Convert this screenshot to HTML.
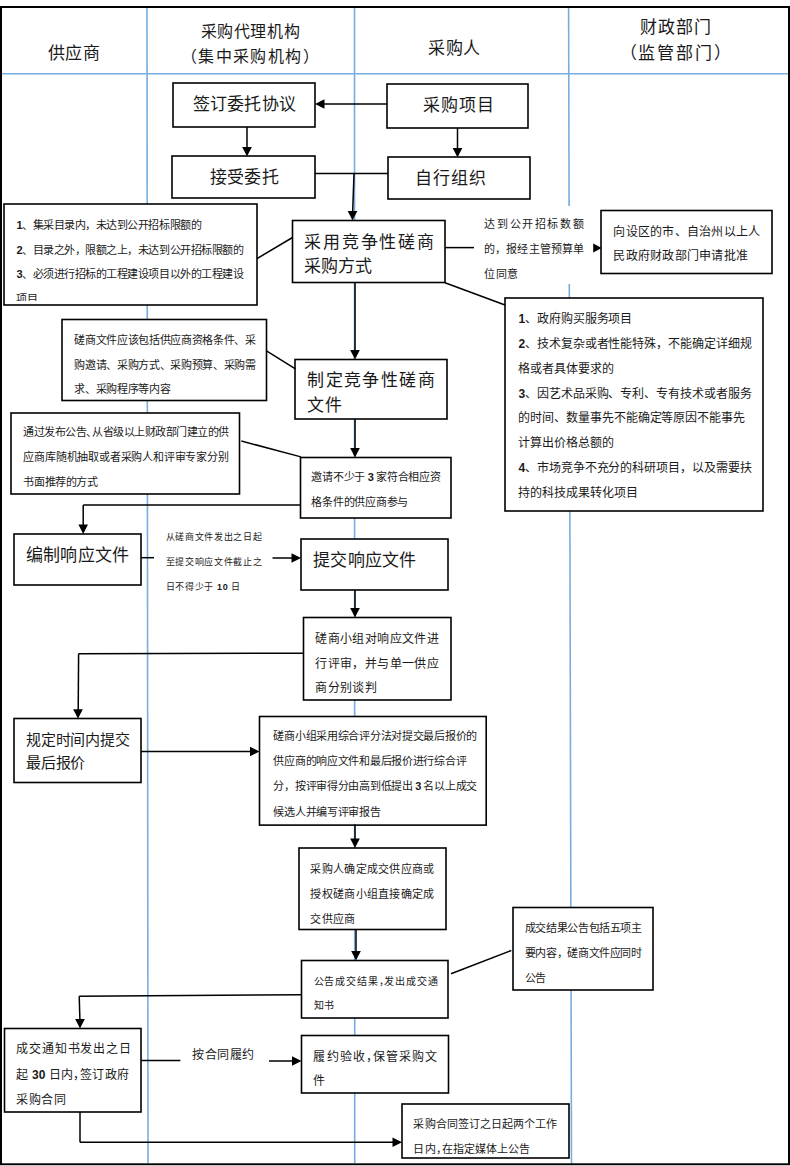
<!DOCTYPE html>
<html lang="zh-CN"><head><meta charset="utf-8"><title>竞争性磋商采购流程</title>
<style>
html,body{margin:0;padding:0;background:#fff;}
body{width:790px;height:1166px;position:relative;overflow:hidden;font-family:"Liberation Serif",serif;color:#1a1a1a;}
.fr{position:absolute;left:0;top:6px;width:790px;height:1159px;border:2px solid #000;box-sizing:border-box;}
.bx{position:absolute;border:1.6px solid #000;box-sizing:border-box;background:#fff;}
.t{position:absolute;white-space:nowrap;}
.t b{font-family:"Liberation Sans",sans-serif;font-weight:bold;}
.c{letter-spacing:-0.45em;}
svg{position:absolute;left:0;top:0;}
.cl{position:absolute;overflow:hidden;}

</style></head><body>
<svg width="790" height="1166" viewBox="0 0 790 1166">
<g stroke="#78ade0" stroke-width="1.6" fill="none">
<line x1="2" y1="73.8" x2="788" y2="73.8"/>
<line x1="147" y1="8" x2="148" y2="1163"/>
<line x1="354.5" y1="8" x2="354.7" y2="1163"/>
<line x1="568.6" y1="8" x2="571.5" y2="1166"/>
</g>
<rect x="1" y="7" width="788" height="1157.3" stroke="#000" stroke-width="2" fill="none"/>
<g stroke="#000" stroke-width="1.6" fill="#fff">
<rect x="173" y="83" width="142" height="44"/>
<rect x="387" y="84" width="141" height="44"/>
<rect x="172" y="156" width="143" height="42"/>
<rect x="388" y="157" width="142" height="42"/>
<rect x="4" y="204" width="253" height="101"/>
<rect x="292.5" y="220.5" width="152.5" height="62"/>
<rect x="601" y="210.5" width="171" height="63"/>
<rect x="505" y="298" width="258" height="213"/>
<rect x="62" y="319.5" width="204.5" height="81"/>
<rect x="295" y="359.5" width="152" height="59.5"/>
<rect x="11" y="413" width="228.5" height="81"/>
<rect x="300.5" y="457.5" width="150.5" height="60.5"/>
<rect x="14" y="534" width="127" height="51"/>
<rect x="301" y="539" width="147" height="51"/>
<rect x="303.5" y="617.5" width="147.5" height="82.5"/>
<rect x="14" y="718.5" width="127" height="64"/>
<rect x="259.5" y="716.5" width="226.7" height="108.6"/>
<rect x="299" y="848" width="147" height="81.5"/>
<rect x="301.5" y="960.5" width="146.5" height="57.5"/>
<rect x="513" y="907.5" width="140" height="82.5"/>
<rect x="4.5" y="1028.5" width="136.5" height="83.5"/>
<rect x="301.5" y="1035.5" width="147" height="57.5"/>
<rect x="402" y="1104" width="167" height="54"/>
</g>
<g stroke="#000" stroke-width="1.5" fill="none">
<line x1="387" y1="104" x2="318" y2="104"/>
<line x1="247" y1="127" x2="247" y2="150"/>
<line x1="457.5" y1="128" x2="457.5" y2="151"/>
<line x1="315" y1="173.5" x2="388" y2="173.5"/>
<line x1="354" y1="173.5" x2="352.6" y2="214"/>
<line x1="257" y1="258.6" x2="292.5" y2="237.5"/>
<line x1="445" y1="247.6" x2="474" y2="247.6"/>
<line x1="445" y1="282.7" x2="505" y2="305"/>
<line x1="355" y1="282.5" x2="355" y2="353"/>
<line x1="266.5" y1="350.9" x2="295.4" y2="368.8"/>
<line x1="355" y1="419" x2="355" y2="451"/>
<line x1="241.3" y1="441" x2="300.9" y2="456.9"/>
<line x1="301" y1="505" x2="83.2" y2="505"/>
<line x1="83.2" y1="505" x2="83.2" y2="528"/>
<line x1="141" y1="557.7" x2="154" y2="557.7"/>
<line x1="272.5" y1="558" x2="295" y2="558"/>
<line x1="355" y1="590" x2="355" y2="611"/>
<line x1="303.5" y1="653.2" x2="78.6" y2="653.8"/>
<line x1="78.6" y1="653.8" x2="78.2" y2="712"/>
<line x1="141" y1="751.5" x2="253" y2="751.5"/>
<line x1="355" y1="824.5" x2="355" y2="841.5"/>
<line x1="356" y1="929.5" x2="356" y2="954"/>
<line x1="451" y1="973.8" x2="511.3" y2="950.5"/>
<line x1="301.5" y1="994.8" x2="79.2" y2="996.3"/>
<line x1="79.2" y1="996.3" x2="80" y2="1022"/>
<line x1="141" y1="1060.6" x2="180.4" y2="1060.6"/>
<line x1="269" y1="1061" x2="295" y2="1061"/>
<line x1="80" y1="1112" x2="80" y2="1142.2"/>
<line x1="80" y1="1142.2" x2="396" y2="1142.2"/>
</g><g fill="#000" stroke="none">
<polygon points="315,104 324.5,99.2 324.5,108.8"/>
<polygon points="247,156.5 242.2,147 251.8,147"/>
<polygon points="457.5,157.5 452.7,148 462.3,148"/>
<polygon points="352.5,220.5 347.7,211 357.3,211"/>
<polygon points="601.7,248 593.2,243.5 593.2,252.5"/>
<polygon points="355,359.5 350.2,350 359.8,350"/>
<polygon points="355,457.5 350.2,448 359.8,448"/>
<polygon points="83.2,534 78.4,524.5 88,524.5"/>
<polygon points="301,558 291.5,553.2 291.5,562.8"/>
<polygon points="355,617.5 350.2,608 359.8,608"/>
<polygon points="78,718.7 73.2,709.2 82.8,709.2"/>
<polygon points="259.5,751.5 250,746.7 250,756.3"/>
<polygon points="355,848 350.2,838.5 359.8,838.5"/>
<polygon points="356,960.5 351.2,951 360.8,951"/>
<polygon points="80,1028.5 75.2,1019 84.8,1019"/>
<polygon points="301.5,1061 292,1056.2 292,1065.8"/>
<polygon points="402,1142.2 392.5,1137.4 392.5,1147"/>
</g></svg>
<div style="position:absolute;left:0;top:1165px;width:790px;height:1px;background:#c8c8c8"></div>
<div class="t" style="top:19.8px;font-size:16px;line-height:24.7px;left:50.5px;width:400px;text-align:center;"><div style="letter-spacing:0.58px">采购代理机构</div><div style="letter-spacing:1.39px">（集中采购机构）</div></div>
<div class="t" style="top:41.6px;font-size:17px;line-height:24px;left:-125.95px;width:400px;text-align:center;"><div style="letter-spacing:0.25px">供应商</div></div>
<div class="t" style="top:36.6px;font-size:17px;line-height:24px;left:254.55px;width:400px;text-align:center;"><div style="letter-spacing:0.65px">采购人</div></div>
<div class="t" style="top:15.4px;font-size:17px;line-height:25.3px;left:476.05px;width:400px;text-align:center;"><div style="letter-spacing:0.9px">财政部门</div><div style="letter-spacing:1.8px">（监管部门）</div></div>
<div class="t" style="top:92.6px;font-size:17px;line-height:24px;left:44.5px;width:400px;text-align:center;"><div style="letter-spacing:0.2px">签订委托协议</div></div>
<div class="t" style="top:93.6px;font-size:17px;line-height:24px;left:259px;width:400px;text-align:center;"><div style="letter-spacing:0.87px">采购项目</div></div>
<div class="t" style="top:165.6px;font-size:17px;line-height:24px;left:44.5px;width:400px;text-align:center;"><div style="letter-spacing:0.33px">接受委托</div></div>
<div class="t" style="top:166.6px;font-size:17px;line-height:24px;left:251.05px;width:400px;text-align:center;"><div style="letter-spacing:0.83px">自行组织</div></div>
<div class="cl" style="left:6px;top:206px;width:249px;height:95px"><div class="t" style="top:7.3px;font-size:11px;line-height:24.6px;left:10.45px;"><div style="letter-spacing:-0.47px"><b>1</b>、集采目录内，未达到公开招标限额的</div><div style="letter-spacing:-0.47px"><b>2</b>、目录之外，限额之上，未达到公开招标限额的</div><div style="letter-spacing:-0.47px"><b>3</b>、必须进行招标的工程建设项目以外的工程建设</div><div style="letter-spacing:-0.47px">项目</div></div></div>
<div class="t" style="top:230.6px;font-size:17px;line-height:24px;left:304.15px;"><div style="letter-spacing:1.8px">采用竞争性磋商</div><div style="letter-spacing:-0.03px">采购方式</div></div>
<div style="position:absolute;left:475px;top:206px;width:117px;height:78px;background:#fff"></div>
<div class="t" style="top:212.14px;font-size:11px;line-height:25.05px;left:484.45px;"><div style="letter-spacing:1.59px">达到公开招标数额</div><div style="letter-spacing:0.02px">的，报经主管预算单</div><div style="letter-spacing:0.5px">位同意</div></div>
<div class="t" style="top:220.1px;font-size:12px;line-height:24px;left:613.4px;"><div style="letter-spacing:0.24px">向设区的市、自治州以上人</div><div style="letter-spacing:0.24px">民政府财政部门申请批准</div></div>
<div class="t" style="top:306.97px;font-size:12px;line-height:24.85px;left:518.4px;"><div style="letter-spacing:-0.08px"><b>1</b>、政府购买服务项目</div><div style="letter-spacing:-0.08px"><b>2</b>、技术复杂或者性能特殊，不能确定详细规</div><div style="letter-spacing:-0.08px">格或者具体要求的</div><div style="letter-spacing:-0.08px"><b>3</b>、因艺术品采购、专利、专有技术或者服务</div><div style="letter-spacing:-0.08px">的时间、数量事先不能确定等原因不能事先</div><div style="letter-spacing:-0.08px">计算出价格总额的</div><div style="letter-spacing:-0.08px"><b>4</b>、市场竞争不充分的科研项目，以及需要扶</div><div style="letter-spacing:-0.08px">持的科技成果转化项目</div></div>
<div class="t" style="top:328.45px;font-size:11px;line-height:24.3px;left:74.45px;"><div style="letter-spacing:-0.33px">磋商文件应该包括供应商资格条件、采</div><div style="letter-spacing:-0.33px">购邀请、采购方式、采购预算、采购需</div><div style="letter-spacing:-0.33px">求、采购程序等内容</div></div>
<div class="t" style="top:367.8px;font-size:17px;line-height:25.3px;left:307.15px;"><div style="letter-spacing:1.45px">制定竞争性磋商</div><div style="letter-spacing:0.7px">文件</div></div>
<div class="t" style="top:420.33px;font-size:11px;line-height:24.8px;left:23.45px;"><div style="letter-spacing:-0.52px">通过发布公告<span class=c>、</span>从省级以上财政部门建立的供</div><div style="letter-spacing:-0.2px">应商库随机抽取或者采购人和评审专家分别</div><div style="letter-spacing:-0.45px">书面推荐的方式</div></div>
<div class="t" style="top:465.35px;font-size:11px;line-height:24.5px;left:311.45px;"><div style="letter-spacing:-0.25px">邀请不少于 <b>3</b> 家符合相应资</div><div style="letter-spacing:-0.25px">格条件的供应商参与</div></div>
<div class="t" style="top:543.6px;font-size:17px;line-height:24px;left:26.15px;"><div style="letter-spacing:0.16px">编制响应文件</div></div>
<div class="t" style="top:525.1px;font-size:9px;line-height:25px;left:165.55px;"><div style="letter-spacing:0.69px">从磋商文件发出之日起</div><div style="letter-spacing:0.69px">至提交响应文件截止之</div><div style="letter-spacing:0.69px">日不得少于 <b>10</b> 日</div></div>
<div class="t" style="top:548.6px;font-size:17px;line-height:24px;left:313.15px;"><div style="letter-spacing:0.2px">提交响应文件</div></div>
<div class="t" style="top:626.8px;font-size:12px;line-height:24.8px;left:315.4px;"><div style="letter-spacing:0.36px">磋商小组对响应文件进</div><div style="letter-spacing:0.36px">行评审，并与单一供应</div><div style="letter-spacing:0.36px">商分别谈判</div></div>
<div class="t" style="top:728.75px;font-size:15px;line-height:23.7px;left:26.25px;"><div style="letter-spacing:-0.28px">规定时间内提交</div><div style="letter-spacing:-0.28px">最后报价</div></div>
<div class="t" style="top:724px;font-size:11px;line-height:25.2px;left:273.45px;"><div style="letter-spacing:-0.29px">磋商小组采用综合评分法对提交最后报价的</div><div style="letter-spacing:-0.29px">供应商的响应文件和最后报价进行综合评</div><div style="letter-spacing:-0.29px">分，按评审得分由高到低提出 <b>3</b> 名以上成交</div><div style="letter-spacing:-0.29px">候选人并编写评审报告</div></div>
<div class="t" style="top:857.28px;font-size:11px;line-height:24.65px;left:310.45px;"><div style="letter-spacing:0.29px">采购人确定成交供应商或</div><div style="letter-spacing:0.29px">授权磋商小组直接确定成</div><div style="letter-spacing:0.29px">交供应商</div></div>
<div class="t" style="top:969.85px;font-size:10px;line-height:24.5px;left:313.5px;"><div style="letter-spacing:0.86px">公告成交结果<span class=c>，</span>发出成交通</div><div style="letter-spacing:0.86px">知书</div></div>
<div class="t" style="top:916.25px;font-size:11px;line-height:24.7px;left:524.55px;"><div style="letter-spacing:-0.34px">成交结果公告包括五项主</div><div style="letter-spacing:-0.34px">要内容，磋商文件应同时</div><div style="letter-spacing:-0.34px">公告</div></div>
<div class="t" style="top:1037.35px;font-size:12px;line-height:25.3px;left:16.4px;"><div style="letter-spacing:0.81px">成交通知书发出之日</div><div style="letter-spacing:0.24px">起 <b>30</b> 日内<span class=c>，</span>签订政府</div><div style="letter-spacing:0.5px">采购合同</div></div>
<div class="t" style="top:1043.1px;font-size:12px;line-height:24px;left:192.4px;"><div style="letter-spacing:0.48px">按合同履约</div></div>
<div class="t" style="top:1046.15px;font-size:12px;line-height:23.9px;left:313.4px;"><div style="letter-spacing:1.13px">履约验收<span class=c>，</span>保管采购文</div><div style="letter-spacing:1.13px">件</div></div>
<div class="t" style="top:1112.3px;font-size:11px;line-height:24.6px;left:413.45px;"><div style="letter-spacing:0.07px">采购合同签订之日起两个工作</div><div style="letter-spacing:0.07px">日内<span class=c>，</span>在指定媒体上公告</div></div>
</body></html>
